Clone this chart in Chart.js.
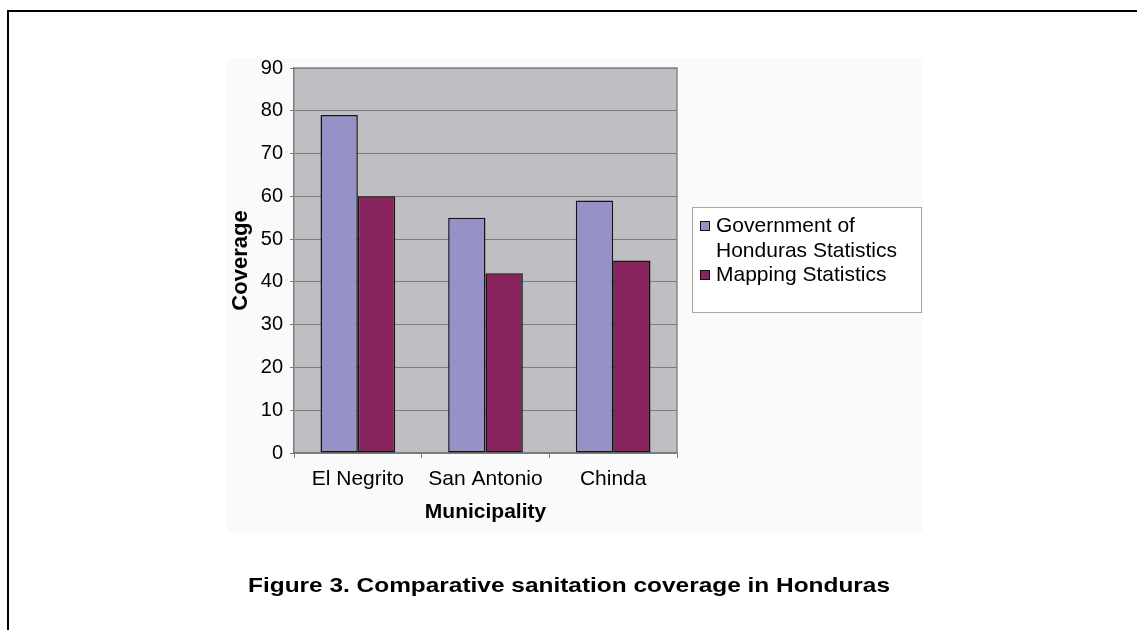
<!DOCTYPE html>
<html>
<head>
<meta charset="utf-8">
<script src="https://cdn.jsdelivr.net/npm/chart.js@4/dist/chart.umd.min.js"></script>
<style>
  html, body { margin: 0; padding: 0; background: #ffffff; }
  #wrap { width: 1137px; height: 630px; }
</style>
</head>
<body>
<div id="wrap"><canvas id="c" width="1137" height="630"></canvas></div>
<script>
const categories = ['El Negrito', 'San Antonio', 'Chinda'];
const seriesNames = ['Government of Honduras Statistics', 'Mapping Statistics'];
const governmentValues = [79, 55, 59];
const mappingValues = [60, 42, 45];
const yTicks = [0, 10, 20, 30, 40, 50, 60, 70, 80, 90];
const captionText = 'Figure 3. Comparative sanitation coverage in Honduras';
const yTitle = 'Coverage';
const xTitle = 'Municipality';

const FONT = "'Liberation Sans', Arial, Helvetica, sans-serif";
const seriesColors = ['#9691c6', '#88235d'];

const decorPlugin = {
  id: 'decor',
  beforeDraw(chart) {
    const ctx = chart.ctx;
    const a = chart.chartArea;
    ctx.save();
    ctx.fillStyle = '#ffffff';
    ctx.fillRect(0, 0, chart.width, chart.height);
    // outer frame (top + left)
    ctx.strokeStyle = '#000000';
    ctx.lineWidth = 2;
    ctx.beginPath();
    ctx.moveTo(8, 630);
    ctx.lineTo(8, 11);
    ctx.lineTo(1137, 11);
    ctx.stroke();
    // chart panel
    ctx.fillStyle = '#fafafa';
    ctx.fillRect(227, 58, 696, 475);
    // plot area
    ctx.fillStyle = '#bfbfc3';
    ctx.fillRect(a.left, a.top, a.right - a.left, a.bottom - a.top);
    ctx.restore();
  },
  beforeDatasetsDraw(chart) {
    const ctx = chart.ctx;
    const a = chart.chartArea;
    ctx.save();
    ctx.strokeStyle = '#868686';
    ctx.lineWidth = 1.5;
    ctx.beginPath();
    ctx.moveTo(a.left, a.top);
    ctx.lineTo(a.right, a.top);
    ctx.lineTo(a.right, a.bottom);
    ctx.stroke();
    ctx.restore();
  },
  afterDraw(chart) {
    const ctx = chart.ctx;
    ctx.save();
    // legend box
    const lx = 692, ly = 207, lw = 229, lh = 105;
    ctx.fillStyle = '#ffffff';
    ctx.fillRect(lx, ly, lw, lh);
    ctx.strokeStyle = '#a6a6a6';
    ctx.lineWidth = 1;
    ctx.strokeRect(lx + 0.5, ly + 0.5, lw, lh);
    ctx.font = '21px ' + FONT;
    ctx.textBaseline = 'alphabetic';
    ctx.textAlign = 'left';
    const maxW = 200;
    let baseline = 232;
    chart.data.datasets.forEach((ds, i) => {
      const words = ds.label.split(' ');
      const lines = [];
      let cur = '';
      words.forEach(w => {
        const t = cur ? cur + ' ' + w : w;
        if (ctx.measureText(t).width > maxW && cur) { lines.push(cur); cur = w; }
        else cur = t;
      });
      if (cur) lines.push(cur);
      // marker
      ctx.fillStyle = ds.backgroundColor;
      ctx.fillRect(700, baseline - 11, 10, 10);
      ctx.strokeStyle = '#111111';
      ctx.lineWidth = 1;
      ctx.strokeRect(700.5, baseline - 10.5, 9, 9);
      ctx.fillStyle = '#000000';
      lines.forEach(l => {
        ctx.fillText(l, 716, baseline);
        baseline += 24.5;
      });
    });
    // caption (slightly widened to match original typesetting)
    ctx.font = 'bold 21px ' + FONT;
    ctx.textAlign = 'center';
    ctx.fillStyle = '#000000';
    const w = ctx.measureText(captionText).width;
    const sx = 642 / w;
    ctx.translate(569, 592);
    ctx.scale(sx, 1);
    ctx.fillText(captionText, 0, 0);
    ctx.restore();
  }
};

new Chart(document.getElementById('c'), {
  type: 'bar',
  data: {
    labels: categories,
    datasets: [
      { label: seriesNames[0], data: governmentValues, backgroundColor: seriesColors[0],
        borderColor: '#141414', borderWidth: 1.5, borderSkipped: false,
        categoryPercentage: 0.585, barPercentage: 1.0 },
      { label: seriesNames[1], data: mappingValues, backgroundColor: seriesColors[1],
        borderColor: '#141414', borderWidth: 1.5, borderSkipped: false,
        categoryPercentage: 0.585, barPercentage: 1.0 }
    ]
  },
  options: {
    responsive: false,
    animation: false,
    devicePixelRatio: 1,
    layout: { padding: { left: 227, top: 68, right: 460, bottom: 97 } },
    plugins: {
      legend: { display: false },
      tooltip: { enabled: false },
      title: { display: false }
    },
    scales: {
      y: {
        min: 0, max: 90,
        afterBuildTicks(scale) { scale.ticks = yTicks.map(v => ({ value: v })); },
        afterFit(scale) { scale.width = 67; },
        ticks: { color: '#000000', font: { family: FONT, size: 20 }, padding: 7 },
        grid: { color: '#7c7c7c', lineWidth: 1, tickLength: 4, tickColor: '#7c7c7c' },
        border: { color: '#7c7c7c', width: 1.5 },
        title: { display: true, text: yTitle, color: '#000000',
                 font: { family: FONT, size: 22, weight: 'bold' }, padding: { top: 1, bottom: 0 } }
      },
      x: {
        afterFit(scale) { scale.height = 80; },
        ticks: { color: '#000000', font: { family: FONT, size: 21 }, padding: 9 },
        grid: { drawOnChartArea: false, offset: true, tickLength: 5, color: '#7c7c7c' },
        border: { color: '#7c7c7c', width: 1.5 },
        title: { display: true, text: xTitle, color: '#000000',
                 font: { family: FONT, size: 21, weight: 'bold' }, padding: { top: 0, bottom: 8 } }
      }
    }
  },
  plugins: [decorPlugin]
});
</script>
</body>
</html>
